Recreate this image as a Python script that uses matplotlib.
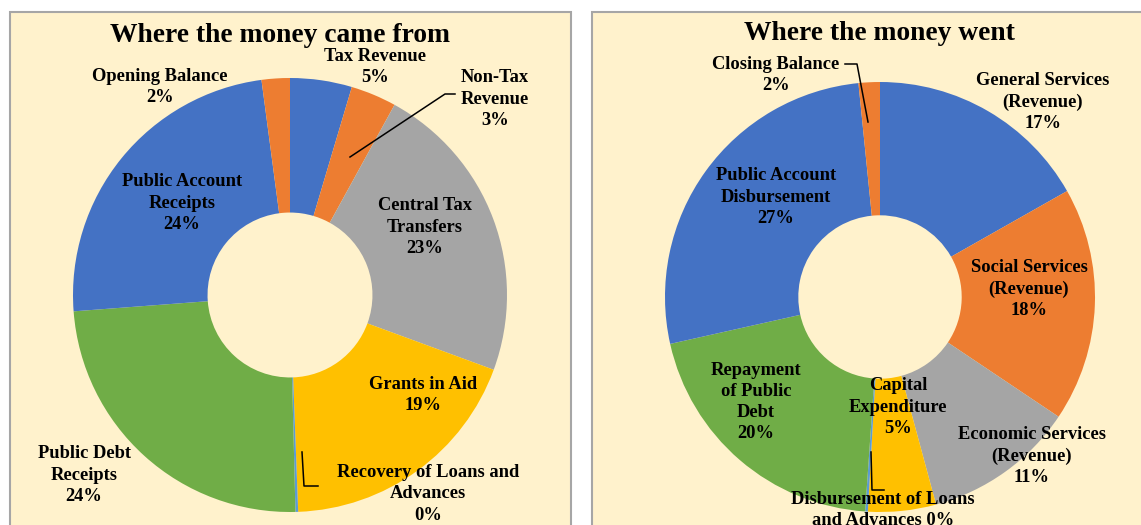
import matplotlib
matplotlib.use('Agg')
import matplotlib.pyplot as plt
from matplotlib.patches import Rectangle

plt.rcParams['font.family'] = ['Liberation Serif', 'DejaVu Serif']
plt.rcParams['font.weight'] = 'bold'

# Where the money came from (percent of receipts)
src_names = ['Tax Revenue', 'Non-Tax\nRevenue', 'Central Tax\nTransfers', 'Grants in Aid',
             'Recovery of Loans and\nAdvances', 'Public Debt\nReceipts',
             'Public Account\nReceipts', 'Opening Balance']
src_values = [4.6, 3.4, 22.6, 18.8, 0.2, 24.2, 24.1, 2.1]
src_colors = ['#4472C4', '#ED7D31', '#A5A5A5', '#FFC000', '#5B9BD5', '#70AD47',
              '#4472C4', '#ED7D31']

# Where the money went (percent of disbursements)
use_names = ['General Services\n(Revenue)', 'Social Services\n(Revenue)',
             'Economic Services\n(Revenue)', 'Capital\nExpenditure',
             'Disbursement of Loans\nand Advances', 'Repayment\nof Public\nDebt',
             'Public Account\nDisbursement', 'Closing Balance']
use_values = [16.8, 17.6, 11.4, 5.1, 0.2, 20.4, 26.9, 1.6]
use_colors = ['#4472C4', '#ED7D31', '#A5A5A5', '#FFC000', '#5B9BD5', '#70AD47',
              '#4472C4', '#ED7D31']

W, H = 1141, 525
BG = '#FFF2CC'
fig = plt.figure(figsize=(W / 100, H / 100), dpi=100)
fig.patch.set_facecolor('white')

# background panels
bg = fig.add_axes([0, 0, 1, 1], zorder=0)
bg.set_xlim(0, W)
bg.set_ylim(H, 0)
bg.axis('off')
bg.add_patch(Rectangle((10, 12), 561, 530, facecolor=BG, edgecolor='#A6A6A6', lw=1.5))
bg.add_patch(Rectangle((592, 12), 570, 530, facecolor=BG, edgecolor='#A6A6A6', lw=1.5))


def donut(cx, cy, r, values, colors):
    ax = fig.add_axes([(cx - r) / W, (H - cy - r) / H, 2 * r / W, 2 * r / H], zorder=1)
    ax.pie(values, colors=colors, startangle=90, counterclock=False,
           wedgeprops=dict(width=0.62, edgecolor='none'))
    ax.set_xlim(-1, 1)
    ax.set_ylim(-1, 1)
    ax.set_aspect('equal')
    ax.axis('off')
    return ax


donut(290, 295, 217, src_values, src_colors)
donut(880, 297, 215, use_values, use_colors)

# overlay for titles, labels and leader lines (pixel coords)
ov = fig.add_axes([0, 0, 1, 1], zorder=3)
ov.patch.set_alpha(0)
ov.set_xlim(0, W)
ov.set_ylim(H, 0)
ov.axis('off')

ov.text(280, 35, 'Where the money came from', ha='center', va='center', fontsize=19.8)
ov.text(879, 34, 'Where the money went', ha='center', va='center', fontsize=19.8)

src_pos = [(375, 67), (495, 99), (425, 227), (423, 395), (428, 494), (84, 475),
           (182, 203), (160, 87)]
use_pos = [(1043, 102), (1029, 289), (1032, 456), (898, 407), (883, 510), (756, 402),
           (776, 197), (776, 75)]

for names, values, pos in [(src_names, src_values, src_pos), (use_names, use_values, use_pos)]:
    for name, v, (x, y) in zip(names, values, pos):
        pct = f'{v:.0f}%'
        if name.startswith('Disbursement of Loans'):
            txt = name + ' ' + pct
        else:
            txt = name + '\n' + pct
        ov.text(x, y, txt, ha='center', va='center', fontsize=13.3, linespacing=1.33)

# leader lines
lc = dict(color='black', lw=1.1)
ov.plot([455, 445, 350], [94, 94, 157], **lc)
ov.plot([302, 304, 318], [452, 486, 486], **lc)
ov.plot([845, 857, 868], [64, 64, 122], **lc)
ov.plot([871, 872, 884], [452, 490, 490], **lc)

fig.savefig('out.png', dpi=100, facecolor=fig.get_facecolor())
